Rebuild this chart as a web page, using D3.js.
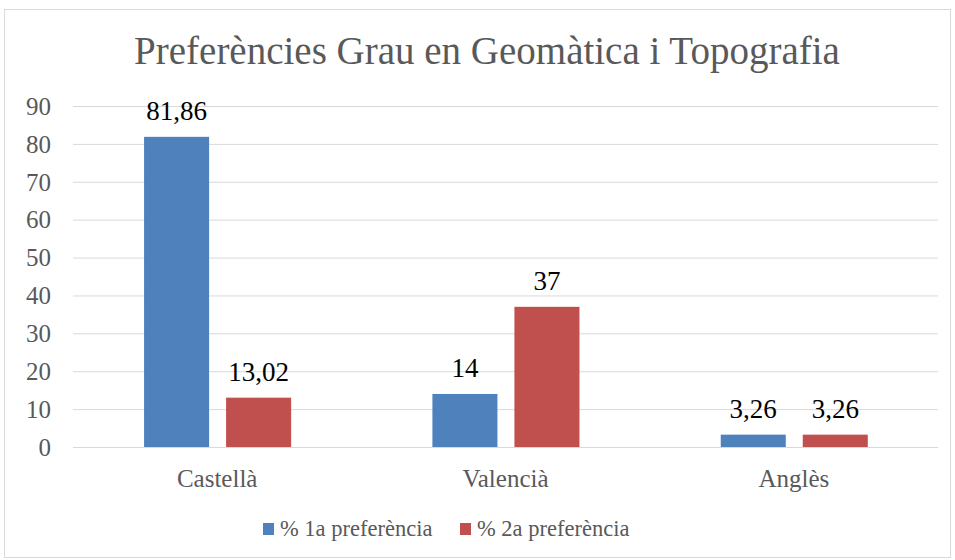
<!DOCTYPE html>
<html>
<head>
<meta charset="utf-8">
<script src="https://cdn.jsdelivr.net/npm/d3@7"></script>
<style>
  body { margin: 0; background: #fff; }
  svg { display: block; }
</style>
</head>
<body>
<svg id="chart" width="955" height="560"></svg>
<script>
const categories = ['Castellà', 'Valencià', 'Anglès'];
const seriesNames = ['% 1a preferència', '% 2a preferència'];
const first = [81.86, 14, 3.26];
const second = [13.02, 37, 3.26];
const labelsFirst = ['81,86', '14', '3,26'];
const labelsSecond = ['13,02', '37', '3,26'];
const yTicks = [0, 10, 20, 30, 40, 50, 60, 70, 80, 90];
const colors = ['#4F81BD', '#C0504D'];

const font = "'Liberation Serif', serif";
const svg = d3.select('#chart');

// outer chart border
svg.append('rect')
  .attr('x', 4.5).attr('y', 9.5)
  .attr('width', 946).attr('height', 548)
  .attr('fill', '#fff')
  .attr('stroke', '#D9D9D9');

const margin = { left: 73, right: 17, top: 106, bottom: 113 };
const plotW = 955 - margin.left - margin.right;
const plotH = 560 - margin.top - margin.bottom;

const g = svg.append('g').attr('transform', `translate(${margin.left},${margin.top})`);

const x = d3.scaleBand().domain(categories).range([0, plotW]);
const x1 = d3.scaleBand().domain([0, 1])
  .range([x.bandwidth() * 0.2465, x.bandwidth() * 0.7565])
  .paddingInner(0.207);
const y = d3.scaleLinear().domain([0, 90]).range([plotH, 0]);

// gridlines
g.selectAll('.grid').data(yTicks).enter().append('line')
  .attr('x1', 0).attr('x2', plotW)
  .attr('y1', d => y(d) + 0.5).attr('y2', d => y(d) + 0.5)
  .attr('stroke', '#D9D9D9').attr('stroke-width', 1);

// y axis labels
g.selectAll('.ylab').data(yTicks).enter().append('text')
  .attr('x', -22).attr('y', d => y(d))
  .attr('dy', '0.35em')
  .attr('text-anchor', 'end')
  .attr('font-family', font).attr('font-size', 25)
  .attr('fill', '#595959')
  .text(d => d);

const rows = categories.map((c, i) => ({
  cat: c,
  vals: [
    { s: 0, v: first[i], label: labelsFirst[i] },
    { s: 1, v: second[i], label: labelsSecond[i] }
  ]
}));

const groups = g.selectAll('.cat').data(rows).enter().append('g')
  .attr('transform', d => `translate(${x(d.cat)},0)`);

groups.selectAll('rect').data(d => d.vals).enter().append('rect')
  .attr('x', d => x1(d.s))
  .attr('width', x1.bandwidth())
  .attr('y', d => y(d.v))
  .attr('height', d => plotH - y(d.v))
  .attr('fill', d => colors[d.s]);

groups.selectAll('.val').data(d => d.vals).enter().append('text')
  .attr('x', d => x1(d.s) + x1.bandwidth() / 2)
  .attr('y', d => y(d.v) - 17)
  .attr('text-anchor', 'middle')
  .attr('font-family', font).attr('font-size', 27)
  .attr('fill', '#000')
  .text(d => d.label);

// category labels
g.selectAll('.xlab').data(categories).enter().append('text')
  .attr('x', d => x(d) + x.bandwidth() / 2)
  .attr('y', plotH + 40)
  .attr('text-anchor', 'middle')
  .attr('font-family', font).attr('font-size', 25)
  .attr('fill', '#595959')
  .text(d => d);

// title
svg.append('text')
  .attr('x', 487).attr('y', 64)
  .attr('text-anchor', 'middle')
  .attr('font-family', font).attr('font-size', 39)
  .attr('fill', '#595959')
  .text('Preferències Grau en Geomàtica i Topografia');

// legend
const legendX = [263, 460];
const legend = svg.selectAll('.leg').data(seriesNames).enter().append('g')
  .attr('transform', (d, i) => `translate(${legendX[i]},523)`);
legend.append('rect')
  .attr('width', 11).attr('height', 12)
  .attr('fill', (d, i) => colors[i]);
legend.append('text')
  .attr('x', 17).attr('y', 13)
  .attr('font-family', font).attr('font-size', 22.5)
  .attr('fill', '#595959')
  .text(d => d);
</script>
</body>
</html>
